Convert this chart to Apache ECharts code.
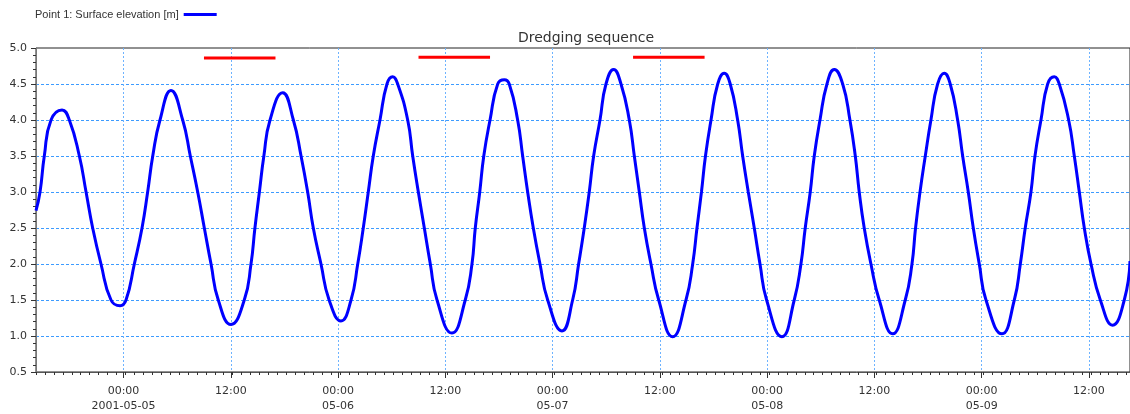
<!DOCTYPE html>
<html>
<head>
<meta charset="utf-8">
<script src="https://cdn.jsdelivr.net/npm/echarts@6/dist/echarts.min.js"></script>
<style>
  html, body { margin: 0; padding: 0; background: #fff; }
  #chart { width: 1130px; height: 414px; }
</style>
</head>
<body>
<div id="chart"></div>
<script>
// Time is in hours after 2001-05-05 00:00 (UTC)
const baseTime = Date.UTC(2001, 4, 5, 0, 0, 0);
const axisStartHour = -9.79;
const axisEndHour = 112.59;

const tideName = 'Point 1: Surface elevation [m]';
const tideHours = [
  -9.79, -9.34, -8.86, -8.11, -6.88, -6.06, -4.94, -4.19, -3.45, -2.52, -1.40, -0.39,
  0.28, 1.21, 2.07, 2.70, 3.27, 4.08, 5.31, 6.62, 7.47, 8.30, 9.04, 9.79, 10.6, 12.02,
  13.51, 14.26, 14.7, 15.2, 15.7, 16.39, 17.81, 19.0, 19.86, 20.6, 21.23, 22.09, 23.0, 24.33,
  25.45, 26.2, 26.82, 27.38, 27.94, 28.69, 29.47, 30.11, 30.67, 31.79, 32.35, 32.98, 33.65, 34.32, 35.07, 36.74,
  38.23, 38.98, 39.35, 39.85, 40.3, 41.0, 41.86, 42.6, 43.15, 44.09, 44.65, 45.21, 45.84, 46.59, 47.45, 49.05,
  50.24, 50.91, 51.54, 52.1, 52.59, 53.3, 53.97, 54.83, 55.65, 56.58, 57.14, 57.7, 58.26, 59.0, 59.87, 61.43,
  62.92, 63.67, 64.15, 64.65, 65.1, 65.72, 66.47, 67.2, 67.87, 68.7, 69.26, 69.89, 70.56, 71.2, 71.94, 73.66,
  75.03, 75.78, 76.26, 76.82, 77.27, 77.91, 78.69, 79.51, 80.45, 81.26, 81.86, 82.3, 82.86, 83.61, 84.54, 86.04,
  87.45, 88.2, 88.6, 89.1, 89.69, 90.32, 91.07, 91.81, 92.48, 93.31, 93.87, 94.5, 95.06, 95.73, 96.48, 98.27,
  99.65, 100.32, 100.87, 101.51, 101.96, 102.63, 103.38, 104.12, 104.68, 105.73, 106.36, 106.92, 107.48, 108.23, 109.27, 110.65,
  111.95, 112.59
];
const tideLevels = [
  2.74, 3.0, 3.5, 4.0, 4.14, 4.0, 3.5, 3.0, 2.5, 2.0, 1.5, 1.42,
  1.5, 2.0, 2.5, 3.0, 3.5, 4.0, 4.41, 4.0, 3.5, 3.0, 2.5, 2.0, 1.5, 1.16,
  1.5, 2.0, 2.5, 3.0, 3.5, 4.0, 4.38, 4.0, 3.5, 3.0, 2.5, 2.0, 1.5, 1.21,
  1.5, 2.0, 2.5, 3.0, 3.5, 4.0, 4.5, 4.60, 4.5, 4.0, 3.5, 3.0, 2.5, 2.0, 1.5, 1.04,
  1.5, 2.0, 2.5, 3.0, 3.5, 4.0, 4.5, 4.56, 4.5, 4.0, 3.5, 3.0, 2.5, 2.0, 1.5, 1.07,
  1.5, 2.0, 2.5, 3.0, 3.5, 4.0, 4.5, 4.70, 4.5, 4.0, 3.5, 3.0, 2.5, 2.0, 1.5, 0.99,
  1.5, 2.0, 2.5, 3.0, 3.5, 4.0, 4.5, 4.65, 4.5, 4.0, 3.5, 3.0, 2.5, 2.0, 1.5, 0.99,
  1.5, 2.0, 2.5, 3.0, 3.5, 4.0, 4.5, 4.70, 4.5, 4.0, 3.5, 3.0, 2.5, 2.0, 1.5, 1.03,
  1.5, 2.0, 2.5, 3.0, 3.5, 4.0, 4.5, 4.65, 4.5, 4.0, 3.5, 3.0, 2.5, 2.0, 1.5, 1.03,
  1.5, 2.0, 2.5, 3.0, 3.5, 4.0, 4.5, 4.60, 4.5, 4.0, 3.5, 3.0, 2.5, 2.0, 1.5, 1.15,
  1.5, 2.04
];

// Dredging sequence: 09:00 - 17:00 on three days
const dredgeStartHours = [9, 33, 57];
const dredgeEndHours = [17, 41, 65];
const dredgeLevels = [4.86, 4.87, 4.87];

const yTickValues = [0.5, 1.0, 1.5, 2.0, 2.5, 3.0, 3.5, 4.0, 4.5, 5.0];

const toMs = h => baseTime + h * 3600000;
const pad = n => (n < 10 ? '0' : '') + n;

const tideData = tideHours.map((h, i) => [toMs(h), tideLevels[i]]);
const dredgeSeries = dredgeStartHours.map((s, i) => ({
  type: 'line',
  name: 'Dredging ' + (i + 1),
  data: [[toMs(s), dredgeLevels[i]], [toMs(dredgeEndHours[i]), dredgeLevels[i]]],
  showSymbol: false,
  lineStyle: { color: '#ff0000', width: 3, cap: 'butt' },
  itemStyle: { color: '#ff0000' },
  z: 4,
  silent: true
}));

const chart = echarts.init(document.getElementById('chart'));
chart.setOption({
  animation: false,
  useUTC: true,
  textStyle: { fontFamily: 'DejaVu Sans, sans-serif' },
  title: {
    text: 'Dredging sequence',
    left: 581,
    top: 26,
    textAlign: 'center',
    textStyle: { fontSize: 14, fontWeight: 'normal', color: '#333', fontFamily: 'DejaVu Sans, sans-serif' }
  },
  legend: {
    left: 30,
    top: 4,
    align: 'right',
    itemWidth: 33,
    itemHeight: 3,
    data: [{ name: tideName, icon: 'rect' }],
    textStyle: { fontSize: 11, color: '#333', fontFamily: 'Liberation Sans, Arial, sans-serif' }
  },
  grid: {
    left: 36, right: 0, top: 48, bottom: 42,
    show: true, borderColor: '#222', borderWidth: 1
  },
  xAxis: [
    {
      type: 'time',
      position: 'bottom',
      min: toMs(axisStartHour),
      max: toMs(axisEndHour),
      minInterval: 13 * 3600000,
      maxInterval: 13 * 3600000,
      splitNumber: 9,
      axisLine: { show: true, onZero: false, lineStyle: { color: '#555', width: 1 } },
      axisTick: { show: true, length: 6, lineStyle: { color: '#333' } },
      minorTick: { show: false },
      splitLine: { show: true, showMinLine: false, showMaxLine: false, lineStyle: { color: '#6db3ff', width: 1, type: [2, 2] } },
      axisLabel: {
        color: '#333',
        fontSize: 11,
        lineHeight: 15,
        margin: 12,
        showMinLabel: false,
        showMaxLabel: false,
        hideOverlap: false,
        formatter: function (val) {
          const d = new Date(val);
          const h = d.getUTCHours(), m = d.getUTCMinutes();
          if (m !== 0 || (h !== 0 && h !== 12)) return '';
          if (h === 12) return '12:00';
          const md = pad(d.getUTCMonth() + 1) + '-' + pad(d.getUTCDate());
          return '00:00\n' + (d.getUTCDate() === 5 ? '2001-' + md : md);
        }
      }
    },
    {
      // hourly minor ticks
      type: 'value',
      position: 'bottom',
      min: axisStartHour,
      max: axisEndHour,
      interval: 1,
      axisLine: { show: false, onZero: false },
      axisLabel: { show: false },
      splitLine: { show: false },
      axisTick: { show: true, length: 3, lineStyle: { color: '#333' } }
    }
  ],
  yAxis: {
    type: 'value',
    min: yTickValues[0],
    max: yTickValues[yTickValues.length - 1],
    interval: 0.5,
    axisLine: { show: true, onZero: false, lineStyle: { color: '#777', width: 1 } },
    axisTick: { show: true, length: 5, lineStyle: { color: '#333' } },
    minorTick: { show: true, splitNumber: 5, length: 3, lineStyle: { color: '#333' } },
    splitLine: { show: true, showMinLine: false, showMaxLine: false, lineStyle: { color: '#3d9bff', width: 1, type: [3, 2] } },
    axisLabel: {
      color: '#333',
      fontSize: 11,
      margin: 9,
      formatter: v => v.toFixed(1)
    }
  },
  series: [
    {
      type: 'line',
      name: tideName,
      data: tideData,
      showSymbol: false,
      smooth: 0.5,
      lineStyle: { color: '#0000ff', width: 3 },
      itemStyle: { color: '#0000ff' },
      z: 3
    }
  ].concat(dredgeSeries)
});
</script>
</body>
</html>
